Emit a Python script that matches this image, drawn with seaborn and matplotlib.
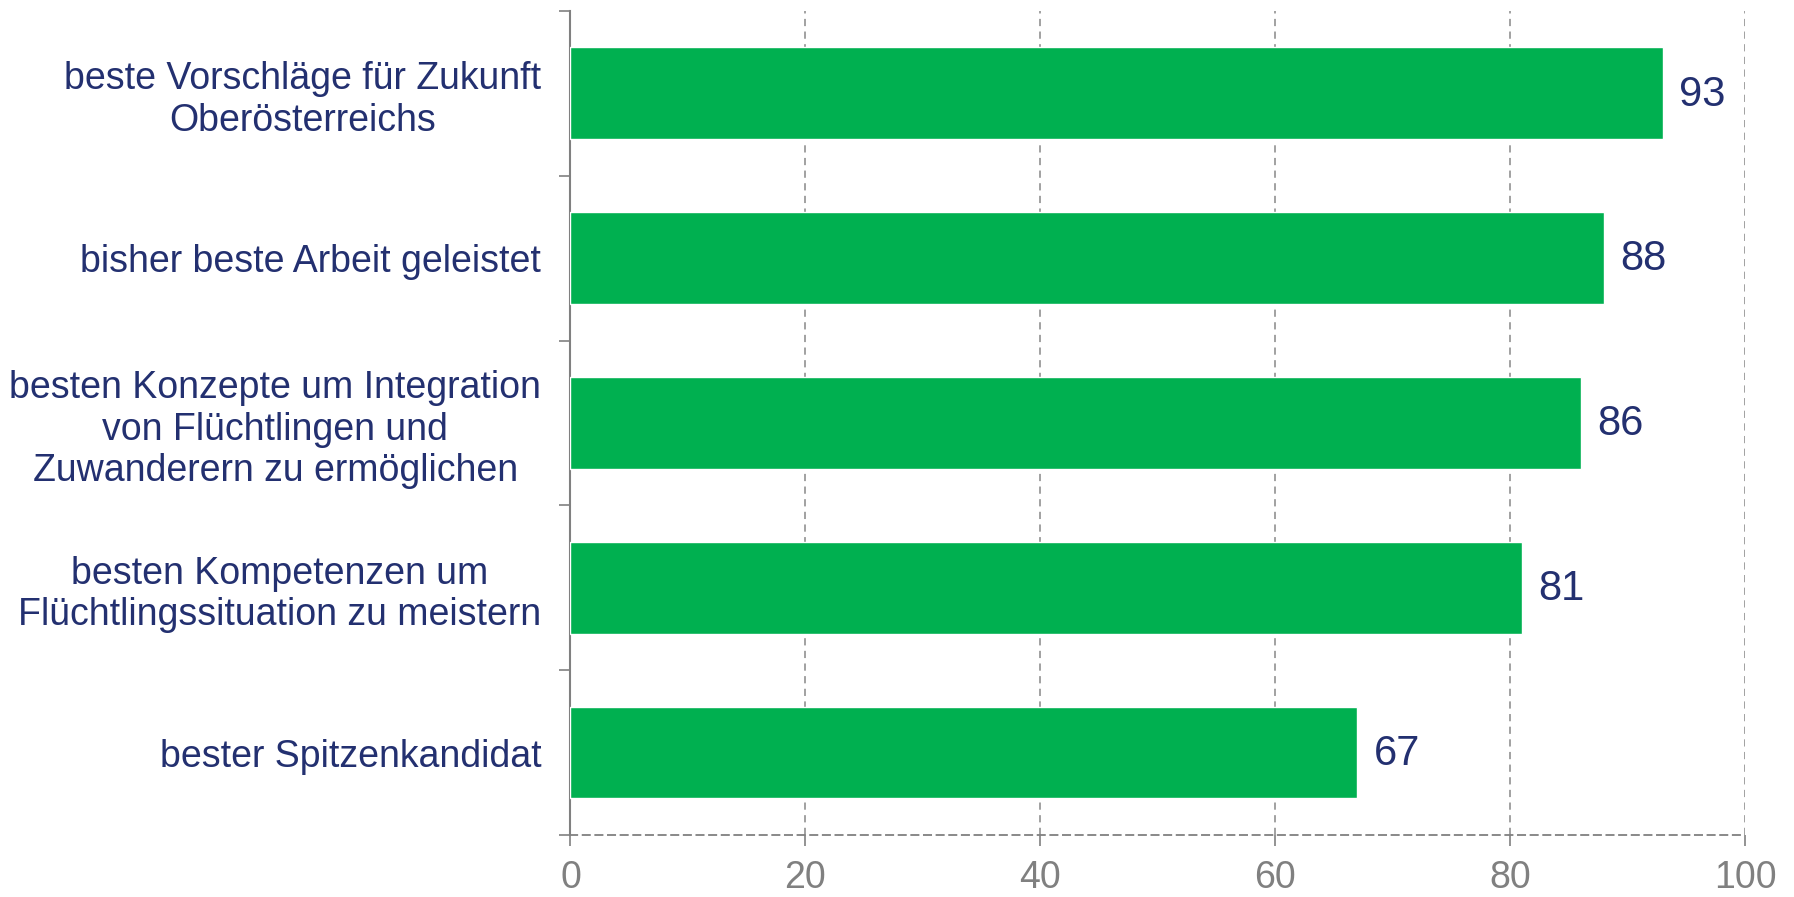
import matplotlib
import matplotlib.pyplot as plt
import numpy as np
import pandas as pd
import seaborn as sns

matplotlib.use("Agg")

GRUEN = "#00B050"
NAVY = "#233070"
GRAU = "#808080"

kategorien = [
    "beste Vorschläge für Zukunft\nOberösterreichs",
    "bisher beste Arbeit geleistet",
    "besten Konzepte um Integration\nvon Flüchtlingen und\nZuwanderern zu ermöglichen",
    "besten Kompetenzen um\nFlüchtlingssituation zu meistern",
    "bester Spitzenkandidat",
]
werte = [93, 88, 86, 81, 67]
x_ticks = [0, 20, 40, 60, 80, 100]


def grafico():
    sns.set_theme(style="white")
    plt.rcParams["font.family"] = ["Liberation Sans", "DejaVu Sans"]

    df = pd.DataFrame({"kategorie": kategorien, "wert": werte})

    fig = plt.figure(figsize=(17.94, 8.97), dpi=100)
    fig.patch.set_facecolor("white")
    ax = fig.add_axes([0.318, 0.069, 0.6547, 0.919])

    sns.barplot(data=df, x="wert", y="kategorie", color=GRUEN, saturation=1,
                width=0.555, ax=ax, zorder=3)

    ax.set_xlim(0, 100)
    ax.set_ylim(len(kategorien) - 0.5, -0.5)
    ax.set_xticks(x_ticks)
    ax.set_xticklabels([str(t) for t in x_ticks], fontsize=27, color=GRAU)
    ax.tick_params(axis="x", bottom=True, direction="out", length=8, width=1.2,
                   color=GRAU, pad=10)

    # Kategorie-Beschriftungen, Ticks zwischen den Balken
    ax.set_yticks(range(len(kategorien)))
    ax.set_yticklabels(kategorien, fontsize=27, color=NAVY, ha="right",
                       multialignment="center", linespacing=1.2)
    ax.tick_params(axis="y", which="major", left=False, length=0, pad=21)
    ax.set_yticks(np.arange(-0.5, len(kategorien)), minor=True)
    ax.tick_params(axis="y", which="minor", left=True, direction="out", length=8,
                   width=1.2, color=GRAU)

    ax.set_xlabel("")
    ax.set_ylabel("")

    for x in x_ticks[1:]:
        ax.axvline(x, color="#9A9A9A", linestyle=(0, (4, 3)), linewidth=1.3, zorder=1)

    for s in ["top", "right"]:
        ax.spines[s].set_visible(False)
    ax.spines["left"].set_color(GRAU)
    ax.spines["left"].set_linewidth(1.5)
    ax.spines["bottom"].set_color(GRAU)
    ax.spines["bottom"].set_linewidth(1.3)
    ax.spines["bottom"].set_linestyle((0, (4, 3)))

    for i, v in enumerate(werte):
        ax.annotate(str(v), xy=(v, i), xytext=(12, -1), textcoords="offset points",
                    ha="left", va="center", fontsize=30, color=NAVY)

    fig.savefig("out.png", dpi=100, facecolor="white")
    plt.close(fig)


grafico()
